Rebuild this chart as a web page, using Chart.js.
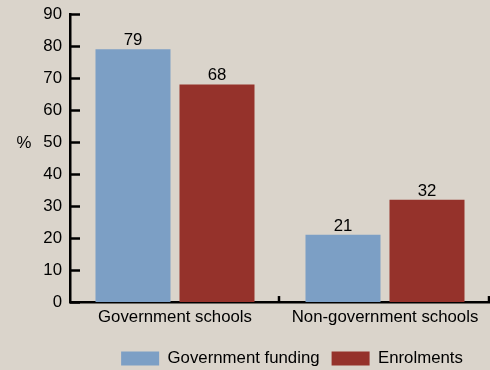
<!DOCTYPE html>
<html>
<head>
<meta charset="utf-8">
<script src="https://cdn.jsdelivr.net/npm/chart.js@4.4.0/dist/chart.umd.min.js"></script>
<style>
  html, body { margin: 0; padding: 0; background: #dad4cb; }
  #wrap { width: 490px; height: 370px; }
</style>
</head>
<body>
<div id="wrap"><canvas id="chart"></canvas></div>
<script>
// Chart data
const categories = ['Government schools', 'Non-government schools'];
const fundingValues = [79, 21];
const enrolmentValues = [68, 32];
const yTicks = [0, 10, 20, 30, 40, 50, 60, 70, 80, 90];
const yTitle = '%';

const FONT = 'Liberation Sans, Arial, Helvetica, sans-serif';
const FSIZE = 16.8;

// Value labels, inward ticks and the "%" title
const decorPlugin = {
  id: 'decor',
  afterLayout(chart) {
    // nudge the legend a bit right, like the original
    if (chart.legend) {
      chart.legend.left += 24;
    }
  },
  afterDraw(chart) {
    const ctx = chart.ctx;
    const yScale = chart.scales.y;
    const xScale = chart.scales.x;
    const area = chart.chartArea;
    ctx.save();
    ctx.strokeStyle = '#000';
    ctx.lineWidth = 2.5;

    // y ticks pointing into the plot
    yTicks.forEach(v => {
      const py = Math.round(yScale.getPixelForValue(v)) + 0.5;
      ctx.beginPath();
      ctx.moveTo(area.left, py);
      ctx.lineTo(area.left + 10, py);
      ctx.stroke();
    });

    // small upward ticks at category boundaries
    const half = (xScale.getPixelForValue(1) - xScale.getPixelForValue(0)) / 2;
    categories.forEach((c, i) => {
      const px = Math.round(xScale.getPixelForValue(i) + half) - 1;
      ctx.beginPath();
      ctx.moveTo(px, area.bottom);
      ctx.lineTo(px, area.bottom - 6);
      ctx.stroke();
    });

    // value labels above bars
    ctx.fillStyle = '#000';
    ctx.font = FSIZE + 'px ' + FONT;
    ctx.textAlign = 'center';
    ctx.textBaseline = 'alphabetic';
    chart.data.datasets.forEach((ds, di) => {
      chart.getDatasetMeta(di).data.forEach((bar, i) => {
        ctx.fillText(String(ds.data[i]), bar.x, bar.y - 4);
      });
    });

    // horizontal axis title
    ctx.textAlign = 'center';
    ctx.textBaseline = 'middle';
    ctx.fillText(yTitle, 24, yScale.getPixelForValue(50) + 1);
    ctx.restore();
  }
};

new Chart(document.getElementById('chart'), {
  type: 'bar',
  data: {
    labels: categories,
    datasets: [
      {
        label: 'Government funding',
        data: fundingValues,
        backgroundColor: '#7c9fc5',
        categoryPercentage: 0.8,
        barPercentage: 0.893
      },
      {
        label: 'Enrolments',
        data: enrolmentValues,
        backgroundColor: '#95322b',
        categoryPercentage: 0.8,
        barPercentage: 0.893
      }
    ]
  },
  options: {
    responsive: true,
    maintainAspectRatio: false,
    animation: false,
    layout: { padding: { top: 0, right: 0, bottom: -7, left: 0 } },
    plugins: {
      legend: {
        display: true,
        position: 'bottom',
        fullSize: false,
        labels: {
          boxWidth: 38,
          boxHeight: 14,
          padding: 12,
          color: '#000',
          font: { family: FONT, size: FSIZE }
        }
      },
      tooltip: { enabled: false }
    },
    scales: {
      x: {
        afterFit(scale) { scale.height += 6; },
        grid: { display: false, drawTicks: false },
        border: { display: true, color: '#000', width: 2.5 },
        ticks: {
          color: '#000',
          padding: 5,
          font: { family: FONT, size: FSIZE }
        }
      },
      y: {
        min: 0,
        max: 90,
        afterFit(scale) {
          scale.width = 70;
          scale.paddingTop = 14;
        },
        afterBuildTicks(scale) { scale.ticks = yTicks.map(v => ({ value: v })); },
        grid: { display: false, drawTicks: false },
        border: { display: true, color: '#000', width: 2.5 },
        ticks: {
          color: '#000',
          padding: 8,
          font: { family: FONT, size: FSIZE }
        }
      }
    }
  },
  plugins: [decorPlugin]
});
</script>
</body>
</html>
